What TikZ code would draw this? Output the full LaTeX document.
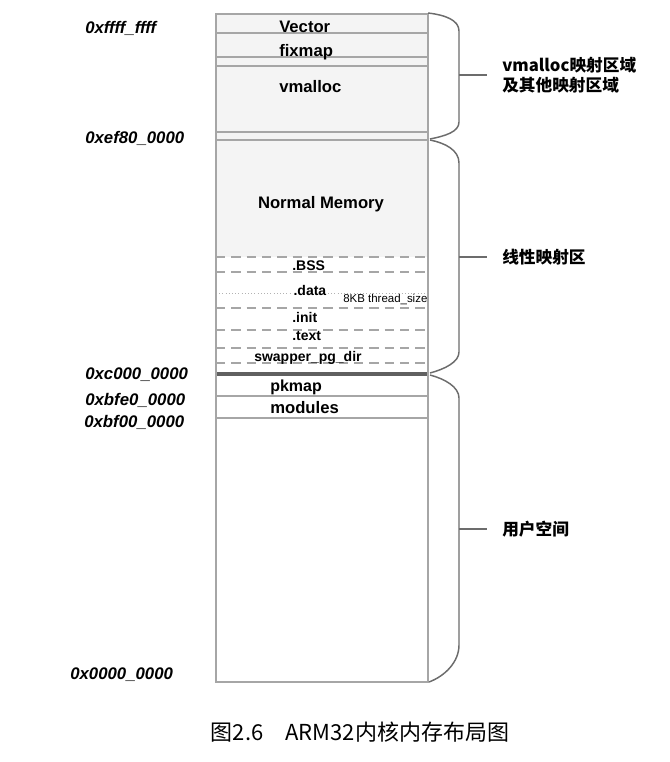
\documentclass[tikz,border=0pt]{standalone}
\usepackage{fontspec}
\setmainfont{Liberation Sans}
\newfontfamily\cjk{Noto Sans CJK SC}
\usetikzlibrary{calc}
\tikzset{
    linea/.style = {draw = gray!70, line width = 0.9pt},
    tratteggio/.style = {draw = gray!70, line width = 0.9pt, dash pattern = on 7pt off 4.5pt},
    puntini/.style = {draw = gray!60, line width = 0.7pt, dash pattern = on 0.8pt off 1.6pt},
    graffa/.style = {draw = gray!85!black, line width = 1.1pt},
    nome/.style = {anchor = base west, font = \fontsize{12.5}{14}\selectfont\bfseries, inner sep = 0pt},
    sezione/.style = {anchor = base west, font = \fontsize{10.5}{12}\selectfont\bfseries, inner sep = 0pt},
    indirizzo/.style = {anchor = base west, font = \fontsize{12.6}{14}\selectfont\bfseries\itshape, inner sep = 0pt},
    zona/.style = {anchor = west, font = \fontsize{12.5}{15}\selectfont\cjk\bfseries, align = left, inner sep = 0pt}
}

\begin{document}
\begin{tikzpicture}[x = 0.75pt, y = -0.75pt]
    \useasboundingbox (0,0) rectangle (669,762);
    % Parametri
    \pgfmathsetmacro{\sx}{216}
    \pgfmathsetmacro{\dx}{428}
    \pgfmathsetmacro{\gx}{459}
    \pgfmathsetmacro{\tx}{487}
    % Scatola
    \fill[gray!9] (\sx,14) rectangle (\dx,257);
    \foreach \y in {33,57,66,132,140,396,418}
        \draw[linea] (\sx,\y) -- (\dx,\y);
    \foreach \y in {257,272,308,330,348,363}
        \draw[tratteggio] (\sx,\y) -- (\dx,\y);
    \draw[puntini] (\sx,293) -- (\dx,293);
    \draw[draw = gray!75!black, line width = 2.4pt] (\sx,374) -- (\dx,374);
    \draw[linea] (\sx,14) rectangle (\dx,682);
    % Nomi nella scatola
    \node[nome] (vector) at (279,33) {Vector};
    \node[nome] (fixmap) at (279,57) {fixmap};
    \node[nome] (vmalloc) at (279,93) {vmalloc};
    \node[nome, anchor = base] (normal) at (321,209) {Normal Memory};
    \node[sezione] (bss) at (292,271) {.BSS};
    \node[sezione, fill = white, inner sep = 1pt] (data) at (292,296) {.data};
    \node[anchor = base west, font = \fontsize{8.6}{10}\selectfont, inner sep = 0pt] (thread) at (343,303) {8KB thread\_size};
    \node[sezione] (init) at (292,322) {.init};
    \node[sezione] (text) at (292,340) {.text};
    \node[sezione] (swapper) at (254,361) {swapper\_pg\_dir};
    \node[nome, font = \fontsize{12}{14}\selectfont\bfseries] (pkmap) at (270,391) {pkmap};
    \node[nome] (modules) at (270,413) {modules};
    % Indirizzi
    \node[indirizzo] (a1) at (85,34) {0xffff\_ffff};
    \node[indirizzo] (a2) at (85,144) {0xef80\_0000};
    \node[indirizzo] (a3) at (85,379) {0xc000\_0000};
    \node[indirizzo] (a4) at (85,405) {0xbfe0\_0000};
    \node[indirizzo] (a5) at (84,427) {0xbf00\_0000};
    \node[indirizzo] (a6) at (70,679) {0x0000\_0000};
    % Graffe
    \draw[graffa] (\dx,13) .. controls (445,15) and (\gx,20) .. (\gx,31) -- (\gx,122) .. controls (\gx,132) and (445,136) .. (430,139);
    \draw[graffa] (430,140) .. controls (445,143) and (\gx,150) .. (\gx,163) -- (\gx,352) .. controls (\gx,362) and (445,369) .. (430,373);
    \draw[graffa] (430,375) .. controls (445,379) and (\gx,387) .. (\gx,398) -- (\gx,645) .. controls (\gx,662) and (445,676) .. (429,682);
    \coordinate (g1) at (\gx,75);
    \coordinate (g2) at (\gx,257);
    \coordinate (g3) at (\gx,529);
    % Etichette delle zone
    \node[zona] (z1) at (502,75) {vmalloc映射区域\\及其他映射区域};
    \node[zona] (z2) at (502,257) {线性映射区};
    \node[zona] (z3) at (502,529) {用户空间};
    \draw[graffa] (g1) -- ($(z1.west)+(-15,0)$);
    \draw[graffa] (g2) -- ($(z2.west)+(-15,0)$);
    \draw[graffa] (g3) -- ($(z3.west)+(-15,0)$);
    % Didascalia
    \node[font = \fontsize{16.5}{19}\selectfont\cjk] (cap) at (360,732) {图2.6\quad ARM32内核内存布局图};
\end{tikzpicture}
\end{document}
